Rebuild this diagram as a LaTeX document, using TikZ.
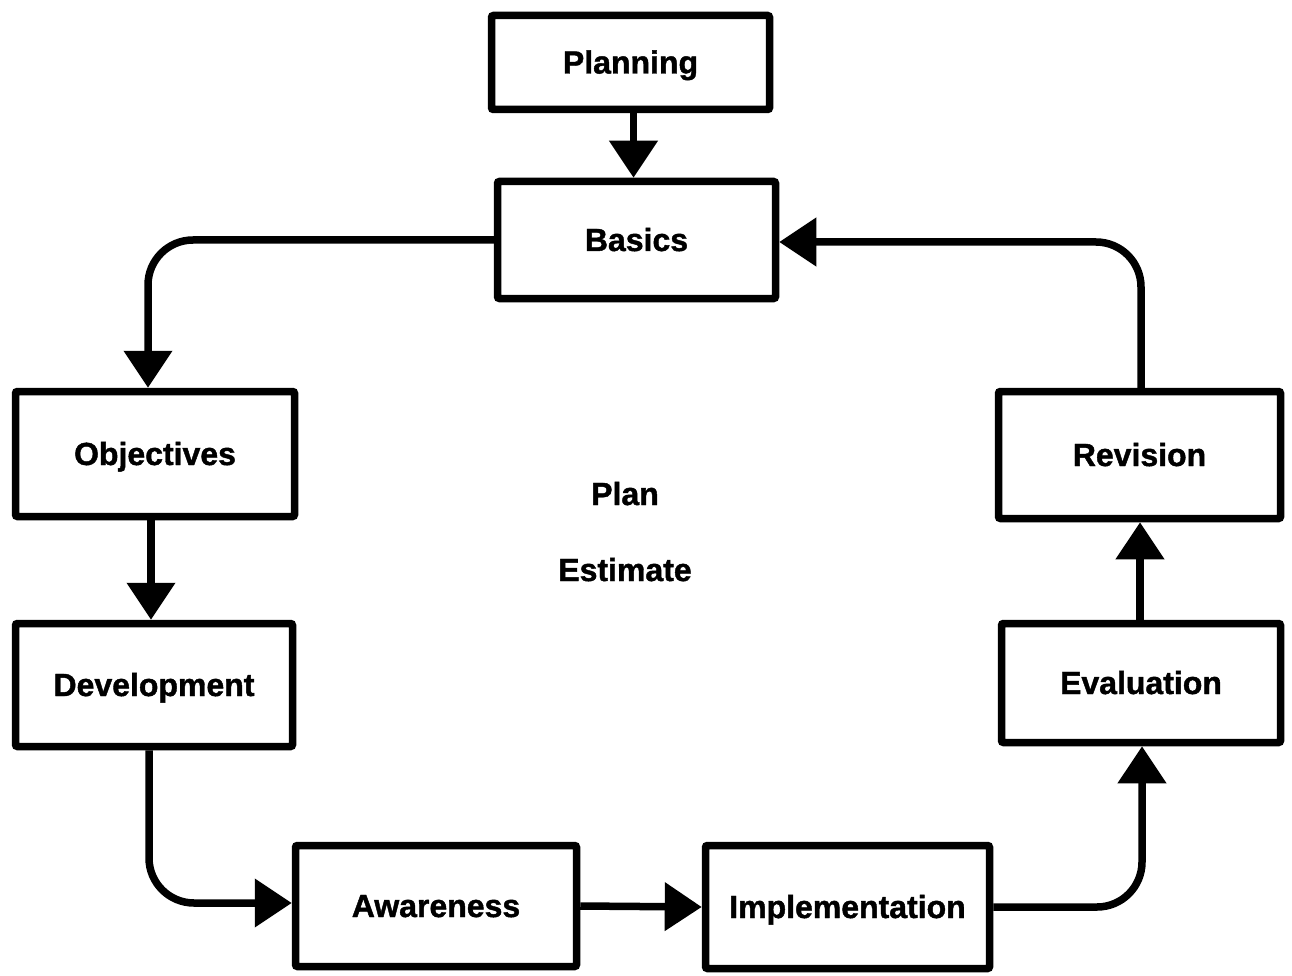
\documentclass[tikz,border=0pt]{standalone}
\usepackage{fontspec}
\setmainfont{Liberation Sans}[BoldFeatures={FakeBold=1.3}]
\usetikzlibrary{arrows.meta,calc}
\begin{document}
\begin{tikzpicture}[x=1pt,y=-1pt,
  box/.style={draw=black,line width=7.5pt,rounded corners=2pt,fill=white,inner sep=0pt,
    font=\fontsize{32}{38}\selectfont\bfseries,text height=22pt,text depth=0pt},
  lbl/.style={font=\fontsize{32}{38}\selectfont\bfseries,inner sep=0pt,text height=22pt,text depth=0pt},
  conn/.style={line width=7.5pt,-{Triangle[length=37pt,width=47pt]}},
  bendconn/.style={conn,rounded corners=45pt}]
\useasboundingbox[fill=white] (0,0) rectangle (1292,976);
\node[box,minimum width=278pt,minimum height=94pt] (plan) at (630.5,62.5) {Planning};
\node[box,minimum width=278pt,minimum height=117pt] (bas) at (636.5,240) {Basics};
\node[box,minimum width=279pt,minimum height=125pt] (obj) at (155,454) {Objectives};
\node[box,minimum width=277pt,minimum height=123pt] (dev) at (154,685) {Development};
\node[box,minimum width=281pt,minimum height=121pt] (awa) at (436,906) {Awareness};
\node[box,minimum width=284pt,minimum height=123pt] (imp) at (847.5,907) {Implementation};
\node[box,minimum width=279pt,minimum height=119pt] (eva) at (1141,683) {Evaluation};
\node[box,minimum width=282pt,minimum height=127pt] (rev) at (1139.5,455) {Revision};
\node[lbl] (pl) at (625,494) {Plan};
\node[lbl] (est) at (625,570) {Estimate};
% connectors
\draw[conn] ([xshift=3pt]plan.south) -- ([xshift=3pt]plan.south |- bas.north);
\draw[bendconn] (bas.west) -| ([xshift=-7pt]obj.north);
\draw[conn] ([xshift=-4pt]obj.south) -- ([xshift=-4pt]obj.south |- dev.north);
\draw[bendconn] ([xshift=-5pt]dev.south) |- ([yshift=3pt]awa.west);
\draw[conn] (awa.east) -- (imp.west);
\draw[bendconn] (imp.east) -| ([xshift=1pt]eva.south);
\draw[conn] ([xshift=0.5pt]rev.south |- eva.north) -- ([xshift=0.5pt]rev.south);
\draw[bendconn] ([xshift=1.5pt]rev.north) |- ([yshift=-2pt]bas.east);
\end{tikzpicture}
\end{document}
